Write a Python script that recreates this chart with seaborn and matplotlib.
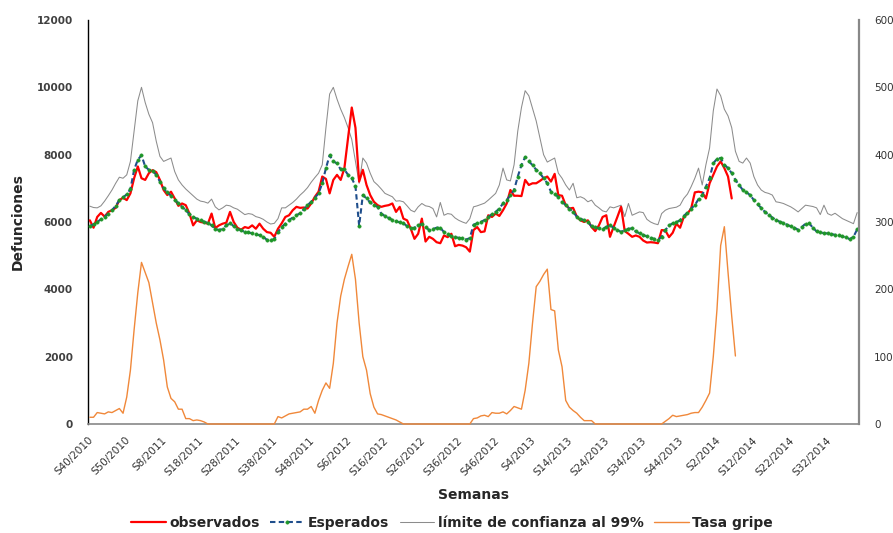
import numpy as np
import pandas as pd
import matplotlib
matplotlib.use("Agg")
import matplotlib.pyplot as plt
import seaborn as sns

# Defunciones semanales S40/2010 - S40/2014
observados = [
    6050, 5830, 6150, 6270, 6160, 6300, 6350, 6420, 6650, 6720, 6650, 6850, 7300, 7650, 7300, 7250, 7450, 7540, 7480, 7250,
    6950, 6800, 6900, 6700, 6480, 6550, 6500, 6250, 5900, 6050, 6000, 5980, 5950, 6250, 5820, 5900, 5950, 5980, 6300, 6000,
    5830, 5770, 5850, 5820, 5900, 5800, 5950, 5800, 5700, 5680, 5560, 5800,
    5960, 6150, 6200, 6350, 6450, 6420, 6430, 6400, 6550, 6750, 6900, 7350, 7280, 6850, 7250, 7400, 7250, 7600, 8500, 9400,
    8800, 7200, 7550, 7100, 6800, 6600, 6500, 6450, 6480, 6500, 6550, 6300, 6450, 6100, 6050, 5800, 5500, 5650, 6100, 5420,
    5560, 5500, 5400, 5370, 5600, 5550, 5650, 5280, 5320, 5300, 5250, 5120,
    5760, 5850, 5700, 5720, 6200, 6150, 6250, 6180, 6350, 6550, 6950, 6780, 6780, 6770, 7250, 7100, 7150, 7150, 7220, 7300,
    7350, 7200, 7430, 6800, 6780, 6500, 6400, 6420, 6160, 6050, 6000, 6050, 5850, 5730, 5900, 6150, 6200, 5560, 5860, 6150,
    6450, 5730, 5650, 5560, 5600, 5560, 5450, 5390, 5400, 5390, 5370, 5760,
    5750, 5550, 5680, 5950, 5830, 6150, 6250, 6400, 6880, 6900, 6880, 6700, 7150, 7400, 7650, 7800, 7600, 7350, 6700,
]

esperados = [
    5880, 5930, 6000, 6080, 6160, 6250, 6350, 6480, 6650, 6730, 6820, 6980, 7550, 7850, 7980, 7650, 7550, 7520, 7400, 7200,
    7000, 6880, 6780, 6650, 6560, 6450, 6350, 6230, 6150, 6100, 6050, 6010, 5970, 5900, 5800, 5760, 5800, 5900, 5960, 5880,
    5800, 5750, 5710, 5690, 5660, 5630, 5610, 5560, 5470, 5460, 5490, 5700,
    5850, 5950, 6060, 6130, 6200, 6260, 6380, 6500, 6600, 6720, 6850, 7150, 7600, 7980, 7800, 7740, 7560, 7560, 7400, 7300,
    7070, 5890, 6800, 6700, 6580, 6500, 6450, 6250, 6180, 6120, 6060, 6020, 5990, 5960, 5880, 5810, 5830, 5900, 5940, 5850,
    5760, 5790, 5830, 5830, 5700, 5630, 5580, 5550, 5530, 5510, 5480, 5520,
    5920, 5960, 6000, 6060, 6150, 6230, 6300, 6400, 6550, 6650, 6800, 6950, 7350, 7690, 7930, 7800, 7690, 7550, 7450, 7300,
    7150, 6900, 6820, 6750, 6600, 6500, 6400, 6300, 6160, 6100, 6050, 6000, 5870, 5840, 5810, 5800, 5850, 5910, 5820, 5760,
    5710, 5750, 5800, 5810, 5720, 5660, 5620, 5570, 5530, 5500, 5480, 5560,
    5760, 5900, 5960, 6000, 6050, 6180, 6280, 6400, 6500, 6680, 6800, 7050, 7300, 7740, 7880, 7900, 7700, 7600, 7450, 7250,
    7100, 6950, 6880, 6800, 6650, 6520, 6420, 6300, 6220, 6130, 6060, 6010, 5970, 5920, 5870, 5830, 5770, 5850, 5950, 5960,
    5830, 5720, 5690, 5670, 5660, 5640, 5620, 5600, 5570, 5540, 5490, 5560, 5780,
]

limite = [
    6470, 6430, 6420, 6480, 6620, 6780, 6950, 7150, 7330, 7300, 7400, 7800, 8700, 9600, 10000, 9550, 9200, 8950, 8400, 7950,
    7800, 7850, 7900, 7500, 7250, 7100, 6980, 6880, 6780, 6680, 6620, 6600, 6560, 6680, 6450, 6360, 6420, 6500, 6480, 6420,
    6380, 6300, 6220, 6250, 6230, 6160, 6130, 6080, 6000, 5940, 5960, 6100,
    6420, 6420, 6500, 6580, 6680, 6800, 6900, 7020, 7180, 7320, 7450, 7700, 8800, 9800, 10000, 9650, 9350, 9100, 8800, 8450,
    7800, 7150, 7900, 7750, 7450, 7200, 7100, 6980, 6850, 6800, 6750, 6620, 6630, 6600, 6480, 6350, 6300, 6450, 6550, 6480,
    6460, 6400, 6150, 6580, 6200, 6250, 6230, 6120, 6050, 6000, 5960, 6100,
    6450, 6480, 6520, 6560, 6650, 6750, 6850, 7100, 7600, 7250, 7220, 7700, 8700, 9400, 9900, 9750, 9380, 9000, 8500, 8000,
    7780, 7840, 7900, 7450, 7300, 7100, 6950, 7150, 6720, 6750, 6700, 6600, 6650, 6500, 6420, 6330, 6300, 6450, 6420, 6460,
    6500, 6160, 6550, 6200, 6250, 6300, 6280, 6080, 6000, 5950, 5920, 6250,
    6350, 6400, 6420, 6440, 6500, 6700, 6830, 7050, 7300, 7600, 7100, 7700, 8200, 9300, 9950, 9750, 9350, 9150, 8800, 8100,
    7800, 7750, 7900, 7750, 7350, 7100, 6950, 6880, 6850, 6800, 6600, 6580, 6550, 6500, 6450, 6380, 6300, 6400, 6500, 6480,
    6460, 6420, 6220, 6500, 6250, 6200, 6260, 6180, 6100, 6050, 6000, 5950, 6280,
]

# eje secundario
tasa_gripe = [
    10, 10, 17, 16, 15, 18, 17, 20, 23, 16, 40, 80, 140, 195, 240, 225, 210, 180, 150, 125,
    95, 55, 38, 33, 22, 22, 8, 8, 5, 6, 5, 3, 0, 0, 0, 0, 0, 0, 0, 0,
    0, 0, 0, 0, 0, 0, 0, 0, 0, 0, 0, 11,
    9, 12, 15, 16, 17, 18, 22, 22, 26, 16, 35, 50, 61, 53, 90, 150, 190, 215, 234, 252,
    215, 150, 100, 80, 45, 25, 15, 14, 12, 10, 8, 6, 3, 0, 0, 0, 0, 0, 0, 0,
    0, 0, 0, 0, 0, 0, 0, 0, 0, 0, 0, 0,
    8, 9, 12, 13, 11, 17, 16, 16, 18, 15, 20, 26, 24, 22, 50, 90, 150, 204, 212, 222,
    230, 170, 168, 110, 85, 35, 25, 20, 16, 10, 5, 5, 5, 0, 0, 0, 0, 0, 0, 0,
    0, 0, 0, 0, 0, 0, 0, 0, 0, 0, 0, 0,
    4, 8, 13, 11, 12, 13, 14, 16, 17, 17, 25, 35, 46, 100, 170, 265, 293, 225, 160, 101,
]

etiquetas_semana = [
    "S40/2010", "S50/2010", "S8/2011", "S18/2011", "S28/2011", "S38/2011", "S48/2011",
    "S6/2012", "S16/2012", "S26/2012", "S36/2012", "S46/2012", "S4/2013", "S14/2013",
    "S24/2013", "S34/2013", "S44/2013", "S2/2014", "S12/2014", "S22/2014", "S32/2014",
]

ROJO = "#FF0000"
AZUL = "#1F4E8C"
VERDE = "#1E9628"
GRIS = "#8C8C8C"
NARANJA = "#F0883A"

sns.set_style("white")
plt.rcParams['font.family'] = ['DejaVu Sans']

n = len(esperados)
df = pd.DataFrame({'semana': np.arange(n) + 0.5, 'esperados': esperados, 'limite': limite})
df_obs = pd.DataFrame({'semana': np.arange(len(observados)) + 0.5, 'observados': observados})
df_gripe = pd.DataFrame({'semana': np.arange(len(tasa_gripe)) + 0.5, 'gripe': tasa_gripe})

fig = plt.figure(figsize=(8.93, 5.33), dpi=100)
ax = fig.add_axes([88 / 893, 1 - 424 / 533, (859 - 88) / 893, (424 - 20) / 533])
ax2 = ax.twinx()

sns.lineplot(data=df, x='semana', y='limite', ax=ax, color=GRIS, linewidth=0.75,
             label='límite de confianza al 99%', zorder=2)
sns.lineplot(data=df, x='semana', y='esperados', ax=ax, color=AZUL, linewidth=1.5,
             linestyle=(0, (2.6, 1.6)), marker='o', markersize=2.4,
             markerfacecolor=VERDE, markeredgecolor=VERDE, markeredgewidth=0.4,
             label='Esperados', zorder=4)
sns.lineplot(data=df_obs, x='semana', y='observados', ax=ax, color=ROJO, linewidth=1.6,
             label='observados', zorder=3)
sns.lineplot(data=df_gripe, x='semana', y='gripe', ax=ax2, color=NARANJA, linewidth=1.0,
             label='Tasa gripe', clip_on=False)

ax.set_xlim(0, n)
ax.set_ylim(0, 12000)
ax.set_yticks(np.arange(0, 12001, 2000))
ax2.set_ylim(0, 600)
ax2.set_yticks(np.arange(0, 601, 100))

ax.set_xticks(np.arange(0, 10 * len(etiquetas_semana), 10))
ax.set_xticklabels(etiquetas_semana, rotation=45, ha='right', va='top',
                   rotation_mode='anchor', fontsize=7.5, color='#333333')

ax.tick_params(axis='y', length=0, pad=11, labelsize=7.5, labelcolor='#404040')
for t in ax.get_yticklabels():
    t.set_fontweight('bold')
ax.tick_params(axis='x', length=5, width=1, color='#888888', direction='out', pad=3)
ax2.tick_params(axis='y', length=0, pad=11, labelsize=7.5, labelcolor='#333333')

ax.spines['top'].set_visible(False)
ax2.spines['top'].set_visible(False)
ax.spines['right'].set_visible(False)
ax.spines['left'].set_color('black')
ax.spines['left'].set_linewidth(1.0)
ax.spines['bottom'].set_color('#888888')
ax.spines['bottom'].set_linewidth(1.2)
ax2.spines['left'].set_visible(False)
ax2.spines['bottom'].set_visible(False)
ax2.spines['right'].set_color('#888888')
ax2.spines['right'].set_linewidth(1.6)
ax.grid(False)
ax2.grid(False)

ax.set_ylabel('Defunciones', fontsize=10, fontweight='bold')
ax.yaxis.set_label_coords(-(88 - 18) / 771, 0.5)
ax.set_xlabel('Semanas', fontsize=10, fontweight='bold')
ax.xaxis.set_label_coords(0.5, -(495 - 424) / 404)
ax.xaxis.label.set_va('center')
ax.yaxis.label.set_va('center')
ax2.set_ylabel('')

# leyenda comun abajo
h1, l1 = ax.get_legend_handles_labels()
h2, l2 = ax2.get_legend_handles_labels()
handles = dict(zip(l1 + l2, h1 + h2))
orden = ['observados', 'Esperados', 'límite de confianza al 99%', 'Tasa gripe']
ax.get_legend().remove()
ax2.get_legend().remove()
fig.legend([handles[k] for k in orden], orden, loc='center', ncol=4,
           bbox_to_anchor=(452 / 893, 1 - 523 / 533), frameon=False,
           prop={'size': 10, 'weight': 'bold'}, handlelength=2.5,
           handletextpad=0.25, columnspacing=0.75)

fig.savefig('out.png', dpi=100)
